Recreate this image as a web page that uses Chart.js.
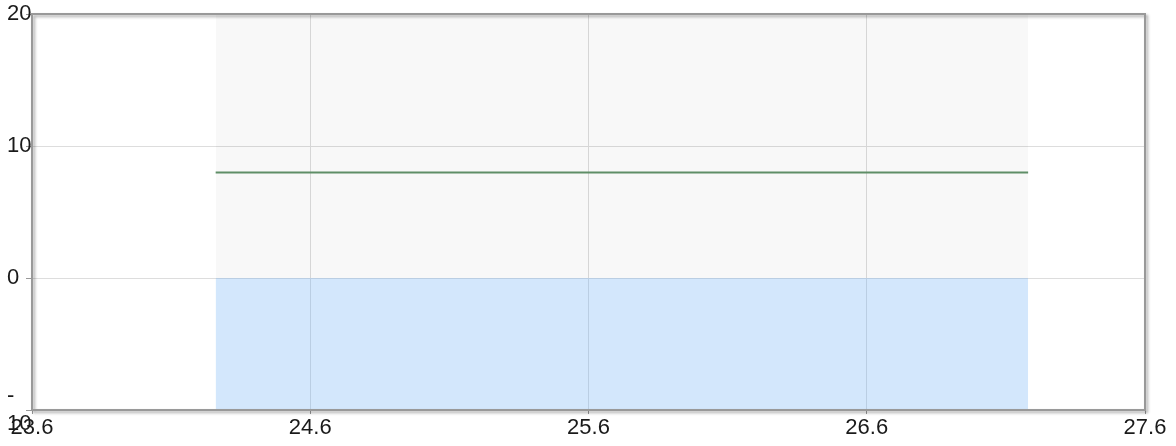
<!DOCTYPE html>
<html>
<head>
<meta charset="utf-8">
<script src="https://cdn.jsdelivr.net/npm/chart.js@4/dist/chart.umd.min.js"></script>
<style>
  html, body { margin: 0; padding: 0; background: #fff; }
  #wrap { width: 1176px; height: 446px; }
</style>
</head>
<body>
<div id="wrap"><canvas id="range_chart" width="1176" height="446"></canvas></div>
<script>
// values
const range_x = [24.26, 27.18];
const band_top = [20, 20];
const area_top = [0, 0];
const line_y = [8, 8];
const x_ticks = [23.6, 24.6, 25.6, 26.6, 27.6];
const y_ticks = [-10, 0, 10, 20];
const y_tick_labels = [['-', '10'], '0', '10', '20'];

function pts(ys){
  return range_x.map((x, i) => ({x: x, y: ys[i]}));
}

// frame with a little shadow round the plot area
const frame_plugin = {
  id: 'frame',
  afterDraw(chart){
    const a = chart.chartArea;
    const ctx = chart.ctx;
    ctx.save();
    ctx.shadowColor = 'rgba(0,0,0,0.35)';
    ctx.shadowOffsetX = 2;
    ctx.shadowOffsetY = 2;
    ctx.shadowBlur = 3;
    ctx.strokeStyle = '#999';
    ctx.lineWidth = 2;
    ctx.strokeRect(a.left, a.top, a.right - a.left, a.bottom - a.top);
    ctx.restore();
  }
};

Chart.defaults.font.family = '"Liberation Sans", Arial, sans-serif';
Chart.defaults.font.size = 22;
Chart.defaults.color = '#1a1a1a';

let ctx = document.getElementById('range_chart').getContext('2d');
let chart = new Chart(ctx, {
  type: 'line',
  data: {
    datasets: [
      {
        label: 'area',
        data: pts(area_top),
        fill: 'start',
        backgroundColor: 'rgba(100,170,245,0.284)',
        borderWidth: 0,
        pointRadius: 0
      },
      {
        label: 'band',
        data: pts(band_top),
        fill: 0,
        backgroundColor: 'rgba(0,0,0,0.028)',
        borderWidth: 0,
        pointRadius: 0
      },
      {
        label: 'line',
        data: pts(line_y),
        fill: false,
        borderColor: '#62926a',
        borderWidth: 2,
        pointRadius: 0
      }
    ]
  },
  options: {
    responsive: false,
    animation: false,
    events: [],
    layout: { padding: { left: 7, right: 31, top: 14, bottom: 0 } },
    plugins: {
      legend: { display: false },
      title: { display: false },
      tooltip: { enabled: false }
    },
    scales: {
      x: {
        type: 'linear',
        min: 23.6,
        max: 27.6,
        afterBuildTicks: s => { s.ticks = x_ticks.map(v => ({value: v})); },
        afterFit: s => { s.height = 36; },
        border: { display: false },
        grid: { color: '#dddddd', lineWidth: 1, tickLength: 4, tickColor: '#999' },
        ticks: {
          padding: 1,
          maxRotation: 0,
          autoSkip: false,
          callback: v => v.toFixed(1)
        }
      },
      y: {
        type: 'linear',
        min: -10,
        max: 20,
        afterBuildTicks: s => { s.ticks = y_ticks.map(v => ({value: v})); },
        afterFit: s => { s.width = 25; s.paddingTop = 0; s.paddingBottom = 0; },
        border: { display: false },
        grid: { color: '#dddddd', lineWidth: 1, tickLength: 6, tickColor: '#999' },
        ticks: {
          crossAlign: 'far',
          autoSkip: false,
          font: { lineHeight: 1.3 },
          callback: v => y_tick_labels[y_ticks.indexOf(v)]
        }
      }
    }
  },
  plugins: [frame_plugin]
});
</script>
</body>
</html>
